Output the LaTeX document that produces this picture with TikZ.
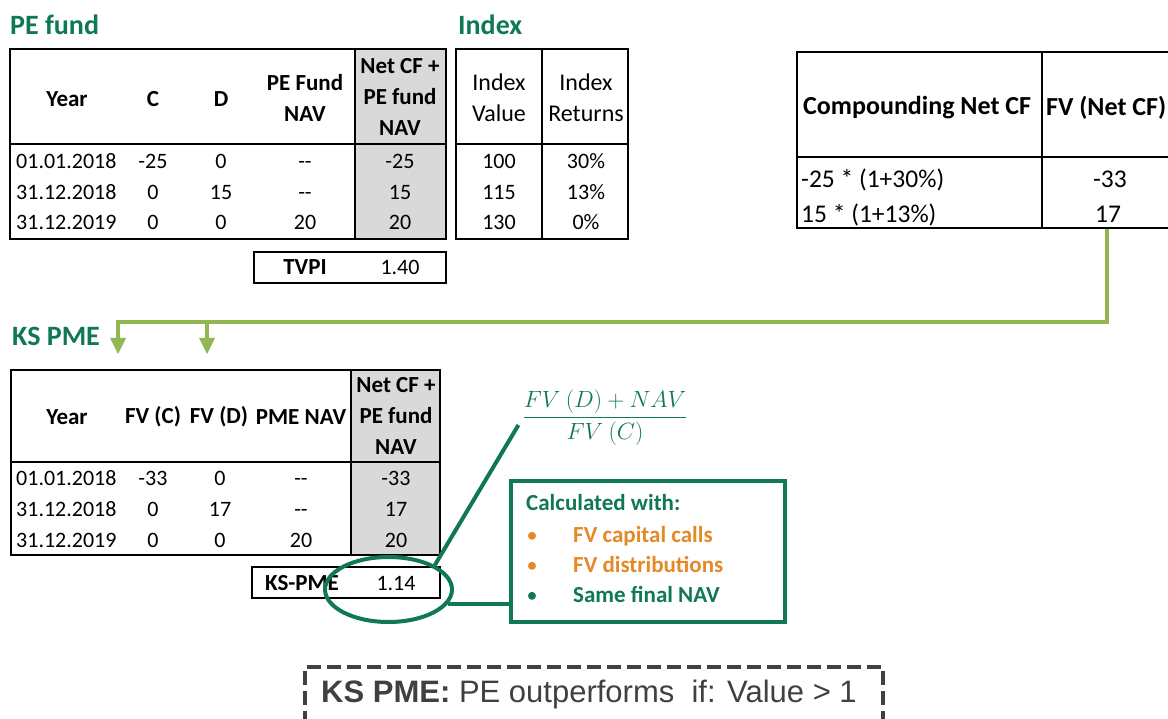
\documentclass[tikz,border=0pt]{standalone}
\usepackage{fix-cm}
\usepackage{amsmath}
\usepackage[no-math]{fontspec}
\setmainfont{Carlito}
\newfontfamily\notefont{Liberation Sans}
\usetikzlibrary{shapes.geometric}
\definecolor{pegreen}{RGB}{16,120,84}
\definecolor{linkgreen}{RGB}{146,183,82}
\definecolor{calcorange}{RGB}{228,137,38}
\definecolor{cellgray}{RGB}{217,217,217}
\definecolor{notegray}{RGB}{64,64,64}
\begin{document}
\begin{tikzpicture}[x=1pt,y=-1pt,
	hd/.style={font=\fontsize{23}{31}\selectfont\bfseries, align=center},
	val/.style={anchor=base},
	yr/.style={anchor=base west},
	title/.style={anchor=west, text=pegreen, font=\fontsize{28}{32}\selectfont\bfseries},
	tabline/.style={black, line width=2.5},
	sepline/.style={black, line width=2}]
	\tikzstyle{every node}+=[inner sep=0pt, font=\fontsize{22}{31}\selectfont]
	\useasboundingbox (0,0) rectangle (1168,719);
	% PE fund table
	\node [title] (petitle) at (10,25) {PE fund};
	\fill [cellgray] (355,49) rectangle (446,239);
	\draw [tabline] (10,49) rectangle (446,239);
	\draw [tabline] (355,49) -- (355,239);
	\draw [sepline] (10,144) -- (446,144);
	\node [hd] (peyear) at (67,99) {Year};
	\node [hd] (pec) at (153,99) {C};
	\node [hd] (ped) at (221,99) {D};
	\node [hd] (penav) at (305,98) {PE Fund\\NAV};
	\node [hd] (penet) at (400,97) {Net CF +\\PE fund\\NAV};
	\node [yr] (pey1) at (16,169) {01.01.2018};
	\node [val] (pec1) at (153,169) {-25};
	\node [val] (ped1) at (221,169) {0};
	\node [val] (pen1) at (305,169) {{-}{-}};
	\node [val] (pes1) at (400,169) {-25};
	\node [yr] (pey2) at (16,200) {31.12.2018};
	\node [val] (pec2) at (153,200) {0};
	\node [val] (ped2) at (221,200) {15};
	\node [val] (pen2) at (305,200) {{-}{-}};
	\node [val] (pes2) at (400,200) {15};
	\node [yr] (pey3) at (16,230) {31.12.2019};
	\node [val] (pec3) at (153,230) {0};
	\node [val] (ped3) at (221,230) {0};
	\node [val] (pen3) at (305,230) {20};
	\node [val] (pes3) at (400,230) {20};
	\draw [sepline] (254,252) rectangle (446,283);
	\node [hd, anchor=base] (tvpi) at (305,275) {TVPI};
	\node [val] (tvpiv) at (400,275) {1.40};
	% Index table
	\node [title] (idxtitle) at (458,25) {Index};
	\draw [tabline] (456,49) rectangle (628,239);
	\draw [tabline] (542,49) -- (542,239);
	\draw [sepline] (456,144) -- (628,144);
	\node [hd, font=\fontsize{24}{31}\selectfont] (idxval) at (499,98) {Index\\Value};
	\node [hd, font=\fontsize{24}{31}\selectfont] (idxret) at (586,98) {Index\\Returns};
	\node [val] (iv1) at (499,169) {100};
	\node [val] (ir1) at (586,169) {30\%};
	\node [val] (iv2) at (499,200) {115};
	\node [val] (ir2) at (586,200) {13\%};
	\node [val] (iv3) at (499,230) {130};
	\node [val] (ir3) at (586,230) {0\%};
	% compounding table
	\draw [tabline] (797,52) rectangle (1185,228);
	\draw [tabline] (1042,52) -- (1042,228);
	\draw [sepline] (797,157) -- (1185,157);
	\node [hd, anchor=west, font=\fontsize{26}{31}\selectfont\bfseries] (cphead) at (803,108) {Compounding Net CF};
	\node [hd, anchor=west, font=\fontsize{26}{31}\selectfont\bfseries] (fvhead) at (1046,108) {FV (Net CF)};
	\node [yr, font=\fontsize{25.5}{31}\selectfont] (cp1) at (801,188) {-25 * (1+30\%)};
	\node [val, font=\fontsize{25.5}{31}\selectfont] (fv1) at (1110,188) {-33};
	\node [yr, font=\fontsize{25.5}{31}\selectfont] (cp2) at (801,223) {15 * (1+13\%)};
	\node [val, font=\fontsize{25.5}{31}\selectfont] (fv2) at (1108,223) {17};
	% link to KS PME
	\coordinate (fvbot) at (1107,229);
	\coordinate (bend) at (118,322);
	\coordinate (ksc) at (118,354);
	\coordinate (ksd) at (207,354);
	\draw [linkgreen, line width=4] (fvbot) |- (bend) -- ([yshift=14pt]ksc);
	\draw [linkgreen, line width=4] (ksd |- bend) -- ([yshift=14pt]ksd);
	\fill [linkgreen] (ksc) -- ++(-8,-16) -- ++(16,0) -- cycle;
	\fill [linkgreen] (ksd) -- ++(-8,-16) -- ++(16,0) -- cycle;
	% KS PME table
	\node [title] (kstitle) at (12,336) {KS PME};
	\fill [cellgray] (351,370) rectangle (440,555);
	\draw [tabline] (11,370) rectangle (440,555);
	\draw [tabline] (351,370) -- (351,555);
	\draw [sepline] (11,462) -- (440,462);
	\node [hd] (ksyear) at (67,417) {Year};
	\node [hd] (ksfc) at (153,417) {FV (C)};
	\node [hd] (ksfd) at (219,417) {FV (D)};
	\node [hd] (ksnav) at (301,417) {PME NAV};
	\node [hd] (ksnet) at (396,416) {Net CF +\\PE fund\\NAV};
	\node [yr] (ksy1) at (16,485) {01.01.2018};
	\node [val] (ksc1) at (153,485) {-33};
	\node [val] (ksd1) at (220,485) {0};
	\node [val] (ksn1) at (301,485) {{-}{-}};
	\node [val] (kss1) at (396,485) {-33};
	\node [yr] (ksy2) at (16,516) {31.12.2018};
	\node [val] (ksc2) at (153,516) {0};
	\node [val] (ksd2) at (220,516) {17};
	\node [val] (ksn2) at (301,516) {{-}{-}};
	\node [val] (kss2) at (396,516) {17};
	\node [yr] (ksy3) at (16,547) {31.12.2019};
	\node [val] (ksc3) at (153,547) {0};
	\node [val] (ksd3) at (220,547) {0};
	\node [val] (ksn3) at (301,547) {20};
	\node [val] (kss3) at (396,547) {20};
	\draw [sepline] (252,567) rectangle (440,598);
	\node [hd, anchor=base] (kspme) at (302,590) {KS-PME};
	\node [val] (kspmev) at (396,590) {1.14};
	% callouts
	\node [draw=pegreen, line width=4, ellipse, minimum width=127, minimum height=65] (ring) at (388.5,589.5) {};
	\node [text=pegreen, font=\fontsize{23.5}{28}\selectfont] (frac) at (605,418) {$\dfrac{FV\ (D)+NAV}{FV\ (C)}$};
	\node [draw=pegreen, line width=4, minimum width=274, minimum height=141, anchor=north west] (calc) at (509,479) {};
	\draw [pegreen, line width=4] (ring.north east) -- ([shift={(-4pt,-7pt)}]frac.west);
	\draw [pegreen, line width=4] (ring.-14) -- (ring.-14 -| calc.west);
	\node [hd, anchor=base west, text=pegreen] (calchd) at (526,510) {Calculated with:};
	\node [val, text=calcorange] (b1) at (532,542) {\textbullet};
	\node [hd, anchor=base west, text=calcorange] (it1) at (573,542) {FV capital calls};
	\node [val, text=calcorange] (b2) at (532,572) {\textbullet};
	\node [hd, anchor=base west, text=calcorange] (it2) at (573,572) {FV distributions};
	\node [val, text=pegreen] (b3) at (532,602) {\textbullet};
	\node [hd, anchor=base west, text=pegreen] (it3) at (573,602) {Same final NAV};
	% rule box
	\node [draw=notegray, line width=3.5, dash pattern=on 14pt off 6pt, minimum width=578, minimum height=80, anchor=north west] (rulebox) at (303,665) {};
	\node [anchor=base, text=notegray, font=\fontsize{31}{34}\notefont] (ruletxt) at (589,702) {\textbf{KS PME:} PE outperforms\ \ if: Value > 1};
\end{tikzpicture}
\end{document}
